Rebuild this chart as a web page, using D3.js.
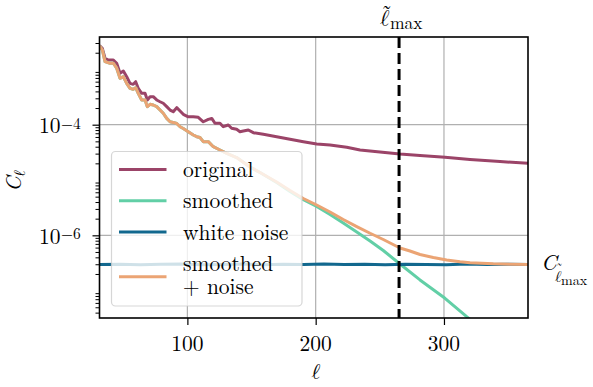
<!DOCTYPE html>
<html><head><meta charset="utf-8">
<script src="https://cdn.jsdelivr.net/npm/d3@7"></script>
</head><body style="margin:0;background:#fff">
<svg id="c" width="593" height="387" style="display:block;font-family:'Latin Modern Roman','Liberation Serif',serif"></svg>
<script>
// ---------- data ----------
const ellOriginal=[31.5,33.7,35.8,38.4,42.3,44.9,47.5,50.1,52.7,55.3,57.8,59.7,61.7,64.4,67.0,68.8,70.9,73.4,76.1,78.7,81.2,83.9,86.5,89.0,91.7,94.3,96.8,100.7,104.6,108.5,112.4,116.3,119.0,121.5,125.4,128.0,131.9,134.5,138.4,141.0,143.6,147.5,151.4,159.2,169.6,180.0,190.4,200.8,211.2,224.2,234.6,250.1,265.7,281.3,300.8,320.3,343.7,365.5];
const cOriginal=[2.68e-3,2.40e-3,1.59e-3,1.48e-3,1.48e-3,1.29e-3,8.50e-4,9.35e-4,7.37e-4,5.60e-4,5.37e-4,5.99e-4,4.55e-4,3.69e-4,3.69e-4,2.80e-4,3.21e-4,3.21e-4,2.80e-4,2.60e-4,2.44e-4,2.12e-4,1.84e-4,1.72e-4,2.03e-4,1.77e-4,1.54e-4,1.39e-4,1.39e-4,1.36e-4,1.13e-4,1.25e-4,1.30e-4,1.06e-4,1.06e-4,9.20e-5,9.87e-5,8.61e-5,8.25e-5,7.47e-5,7.69e-5,8.02e-5,7.17e-5,6.70e-5,6.07e-5,5.44e-5,4.93e-5,4.48e-5,4.29e-5,3.90e-5,3.49e-5,3.21e-5,2.95e-5,2.77e-5,2.57e-5,2.35e-5,2.16e-5,2.00e-5];

const ellSmoothed=[31.5,33.7,35.8,39.7,42.3,44.9,47.5,50.1,52.7,55.3,57.8,59.7,61.7,64.4,67.0,68.8,70.9,73.4,76.1,78.7,81.2,83.9,86.5,89.0,91.7,94.3,96.8,100.7,104.6,107.3,109.8,112.4,116.3,120.2,125.4,130.7,138.4,148.8,156.6,169.6,180.0,190.4,200.8,211.2,221.5,232.0,242.4,252.7,265.7,281.3,300.8,317.7,327.8];
const cSmoothed=[2.68e-3,2.24e-3,1.38e-3,1.29e-3,1.29e-3,1.05e-3,6.90e-4,7.37e-4,5.60e-4,4.55e-4,4.36e-4,4.66e-4,3.69e-4,2.80e-4,2.80e-4,2.12e-4,2.34e-4,2.27e-4,2.12e-4,1.84e-4,1.61e-4,1.30e-4,1.13e-4,1.10e-4,1.05e-4,9.20e-5,8.53e-5,7.47e-5,6.51e-5,6.07e-5,5.87e-5,4.93e-5,4.93e-5,4.00e-5,3.49e-5,3.04e-5,2.55e-5,1.72e-5,1.37e-5,9.00e-6,6.20e-6,4.40e-6,3.32e-6,2.38e-6,1.67e-6,1.15e-6,7.89e-7,5.31e-7,3.03e-7,1.56e-7,7.26e-8,3.38e-8,2.20e-8];

const ellNoise=[31.5,47.4,63.3,79.2,95.1,111.0,126.9,142.8,158.7,174.6,190.5,206.4,222.3,238.2,254.1,270.0,285.9,301.8,317.7,333.6,349.5,365.5];
const cNoise=[2.97e-7,3.01e-7,2.93e-7,2.99e-7,3.03e-7,2.95e-7,2.98e-7,3.02e-7,2.94e-7,3.00e-7,2.97e-7,3.04e-7,2.96e-7,2.99e-7,2.93e-7,3.01e-7,2.98e-7,2.95e-7,3.02e-7,2.97e-7,3.00e-7,2.96e-7];

const ellSum=[31.5,33.7,35.8,39.7,42.3,44.9,47.5,50.1,52.7,55.3,57.8,59.7,61.7,64.4,67.0,68.8,70.9,73.4,76.1,78.7,81.2,83.9,86.5,89.0,91.7,94.3,96.8,100.7,104.6,107.3,109.8,112.4,116.3,120.2,125.4,130.7,138.4,148.8,156.6,169.6,180.0,190.4,200.8,211.2,221.5,232.0,242.4,252.7,265.7,273.5,281.3,291.7,302.1,312.5,320.3,338.5,351.5,365.5];
const cSum=[2.68e-3,2.24e-3,1.38e-3,1.29e-3,1.29e-3,1.05e-3,6.90e-4,7.37e-4,5.60e-4,4.55e-4,4.36e-4,4.66e-4,3.69e-4,2.80e-4,2.80e-4,2.12e-4,2.34e-4,2.27e-4,2.12e-4,1.84e-4,1.61e-4,1.30e-4,1.13e-4,1.10e-4,1.05e-4,9.20e-5,8.53e-5,7.47e-5,6.51e-5,6.07e-5,5.87e-5,4.93e-5,4.93e-5,4.00e-5,3.49e-5,3.04e-5,2.55e-5,1.72e-5,1.37e-5,9.20e-6,6.46e-6,4.63e-6,3.53e-6,2.64e-6,1.93e-6,1.44e-6,1.09e-6,8.40e-7,5.90e-7,5.21e-7,4.50e-7,3.97e-7,3.58e-7,3.32e-7,3.20e-7,3.05e-7,3.00e-7,2.98e-7];

const ellTildeMax=265;
const xTickValues=[100,200,300];
const yTickExponents=[-4,-6];
const seriesNames=["original","smoothed","white noise","smoothed\n+ noise"];
const seriesColors=["#9b4468","#62cfa6","#12688e","#eba474"];

// ---------- layout ----------
const FONT="'Latin Modern Roman','Liberation Serif',serif";
const MATH="'Latin Modern Math','Latin Modern Roman','Liberation Serif',serif";
const L=99.5,R=528,T=37,B=318;
const svg=d3.select("#c");
const x=d3.scaleLinear().domain([31.5,365.5]).range([L,R]);
const y=d3.scaleLog().domain([3.2e-8,3.85e-3]).range([B,T]);
function txt(px,py,s,size,opts={}){
  const t=svg.append("text").attr("x",px).attr("y",py).text(s)
    .style("font-family",opts.math?MATH:FONT).style("font-size",size+"px").style("fill","#000");
  if(opts.italic) t.style("font-style","italic");
  if(opts.anchor) t.attr("text-anchor",opts.anchor);
  return t;
}

svg.append("defs").append("clipPath").attr("id","clip")
  .append("rect").attr("x",L).attr("y",T).attr("width",R-L).attr("height",B-T);

// grid
const grid=svg.append("g").attr("stroke","#b0b0b0").attr("stroke-width",1.2);
xTickValues.forEach(v=>grid.append("line").attr("x1",x(v)).attr("x2",x(v)).attr("y1",T).attr("y2",B));
yTickExponents.forEach(e=>grid.append("line").attr("x1",L).attr("x2",R).attr("y1",y(Math.pow(10,e))).attr("y2",y(Math.pow(10,e))));

// series
const series=[
  d3.zip(ellOriginal,cOriginal),
  d3.zip(ellSmoothed,cSmoothed),
  d3.zip(ellNoise,cNoise),
  d3.zip(ellSum,cSum)
];
const line=d3.line().x(d=>x(d[0])).y(d=>y(d[1]));
const plot=svg.append("g").attr("clip-path","url(#clip)");
series.forEach((s,i)=>{
  plot.append("path").attr("d",line(s)).attr("fill","none")
    .attr("stroke",seriesColors[i]).attr("stroke-width",3).attr("stroke-linejoin","round");
});

// dashed vertical line
plot.append("line").attr("x1",x(ellTildeMax)).attr("x2",x(ellTildeMax)).attr("y1",T).attr("y2",B)
  .attr("stroke","#000").attr("stroke-width",3).attr("stroke-dasharray","11,5");

// axes
const xAxis=d3.axisBottom(x).tickValues(xTickValues).tickSize(7).tickFormat("");
const gx=svg.append("g").attr("transform",`translate(0,${B})`).call(xAxis);
gx.select(".domain").remove();
gx.selectAll(".tick line").attr("stroke","#000").attr("stroke-width",1.2);
xTickValues.forEach(v=>txt(x(v),351,d3.format("d")(v),21.5,{anchor:"middle"}));

const minorTicks=y.ticks().filter(v=>{const e=Math.log10(v);return Math.abs(e-Math.round(e))>1e-6;});
const gym=svg.append("g").attr("transform",`translate(${L},0)`).call(d3.axisLeft(y).tickValues(minorTicks).tickSize(4).tickFormat(""));
gym.select(".domain").remove();
gym.selectAll(".tick line").attr("stroke","#000").attr("stroke-width",1);
const gyM=svg.append("g").attr("transform",`translate(${L},0)`).call(d3.axisLeft(y).tickValues(yTickExponents.map(e=>Math.pow(10,e))).tickSize(7).tickFormat(""));
gyM.select(".domain").remove();
gyM.selectAll(".tick line").attr("stroke","#000").attr("stroke-width",1.2);
yTickExponents.forEach(e=>{
  const yy=y(Math.pow(10,e));
  txt(60.5,yy+8.3,"10",21.5,{anchor:"end"});
  txt(61,yy+4,"\u2212"+Math.abs(e),15.5);
});

// frame
svg.append("rect").attr("x",L).attr("y",T).attr("width",R-L).attr("height",B-T)
  .attr("fill","none").attr("stroke","#000").attr("stroke-width",1.6);

// axis labels
txt(316,379,"\u2113",21.5,{math:true,anchor:"middle"});
const yl=svg.append("text").attr("transform","translate(21,181) rotate(-90)").attr("text-anchor","middle")
  .style("font-family",FONT).style("fill","#000");
yl.append("tspan").style("font-size","21.5px").style("font-style","italic").text("C");
yl.append("tspan").style("font-size","15px").style("font-family",MATH).attr("dy",4).text("\u2113");

// top label: l-tilde max
txt(380,26,"\u2113",23,{math:true});
txt(381.5,19.5,"\u02dc",21);
txt(390,29,"max",17.5);

// right label: C_{l-tilde max}
txt(541,270,"C",22,{italic:true});
txt(555,282,"\u2113",16,{math:true});
txt(556,273,"\u02dc",14);
txt(561,285,"max",14);

// legend
const lg=svg.append("g");
lg.append("rect").attr("x",111.5).attr("y",151.5).attr("width",190.5).attr("height",154.5).attr("rx",4)
  .attr("fill","#fff").attr("fill-opacity",0.8).attr("stroke","#cccccc").attr("stroke-opacity",0.8).attr("stroke-width",1.2);
const legY=[169.5,200.7,232,276.7];
const legBase=[[176.7],[208.3],[240],[271,294.3]];
seriesNames.forEach((n,i)=>{
  lg.append("line").attr("x1",119).attr("x2",166.5).attr("y1",legY[i]).attr("y2",legY[i])
    .attr("stroke",seriesColors[i]).attr("stroke-width",3);
  n.split("\n").forEach((t,j)=>{
    lg.append("text").attr("x",183).attr("y",legBase[i][j]).text(t)
      .style("font-family",FONT).style("font-size","21.5px").style("fill","#000");
  });
});
</script></body></html>
